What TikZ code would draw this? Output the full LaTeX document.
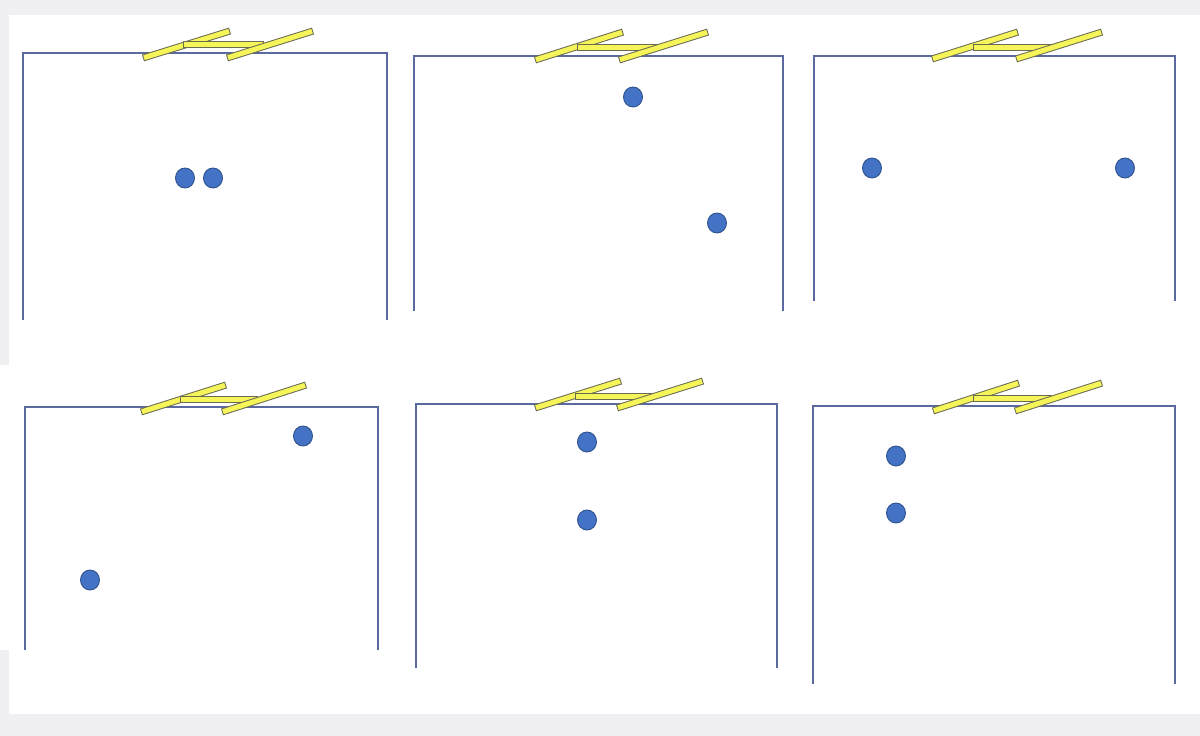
\documentclass[tikz,border=0pt]{standalone}
\definecolor{pagebg}{HTML}{F0F0F2}
\definecolor{boxline}{HTML}{5A69A0}
\definecolor{ballfill}{HTML}{4472C4}
\definecolor{ballline}{HTML}{2F528F}
\definecolor{barfill}{HTML}{F5F55A}
\definecolor{barline}{HTML}{6B6B52}
\tikzset{
  boxwall/.style={draw=boxline, line width=1.1pt},
  bar/.style={draw=barline, line width=7pt, postaction={draw=barfill, line width=5pt, shorten >=1pt, shorten <=1pt}},
  ball/.style={ellipse, draw=ballline, fill=ballfill, line width=0.9pt, minimum width=19pt, minimum height=20pt, inner sep=0pt}
}
\usetikzlibrary{shapes.geometric}
\begin{document}
\begin{tikzpicture}[x=1pt,y=-1pt]
\useasboundingbox (0,0) rectangle (1200,736);
\fill[pagebg] (0,0) rectangle (1200,736);
\fill[white] (9,15) rectangle (1200,714);
\fill[white] (0,365) rectangle (9,650);
% panel 1
\draw[boxwall] (23,320) -- (23,53) -- (387,53) -- (387,320);
\draw[bar] (143,58) -- (230,31);
\draw[bar] (183,44.5) -- (264,44.5);
\draw[bar] (227,58) -- (313,31);
\node[ball] (a1) at (185,178) {};
\node[ball] (a2) at (213,178) {};
% panel 2
\draw[boxwall] (414,311) -- (414,56) -- (783,56) -- (783,311);
\draw[bar] (535,60) -- (623,32);
\draw[bar] (577,47) -- (658,47);
\draw[bar] (619,60) -- (708,32);
\node[ball] (b1) at (633,97) {};
\node[ball] (b2) at (717,223) {};
% panel 3
\draw[boxwall] (814,301) -- (814,56) -- (1175,56) -- (1175,301);
\draw[bar] (932,59) -- (1018,32);
\draw[bar] (973,47) -- (1053,47);
\draw[bar] (1016,59) -- (1102,32);
\node[ball] (c1) at (872,168) {};
\node[ball] (c2) at (1125,168) {};
% panel 4
\draw[boxwall] (25,650) -- (25,407) -- (378,407) -- (378,650);
\draw[bar] (141,412) -- (226,385);
\draw[bar] (180,399) -- (258,399);
\draw[bar] (222,412) -- (306,385);
\node[ball] (d1) at (303,436) {};
\node[ball] (d2) at (90,580) {};
% panel 5
\draw[boxwall] (416,668) -- (416,404) -- (777,404) -- (777,668);
\draw[bar] (535,408) -- (621,381);
\draw[bar] (575,396) -- (654,396);
\draw[bar] (617,408) -- (703,381);
\node[ball] (e1) at (587,442) {};
\node[ball] (e2) at (587,520) {};
% panel 6
\draw[boxwall] (813,684) -- (813,406) -- (1175,406) -- (1175,684);
\draw[bar] (933,411) -- (1019,383);
\draw[bar] (973,398) -- (1052,398);
\draw[bar] (1015,411) -- (1102,383);
\node[ball] (f1) at (896,456) {};
\node[ball] (f2) at (896,513) {};
\end{tikzpicture}
\end{document}
